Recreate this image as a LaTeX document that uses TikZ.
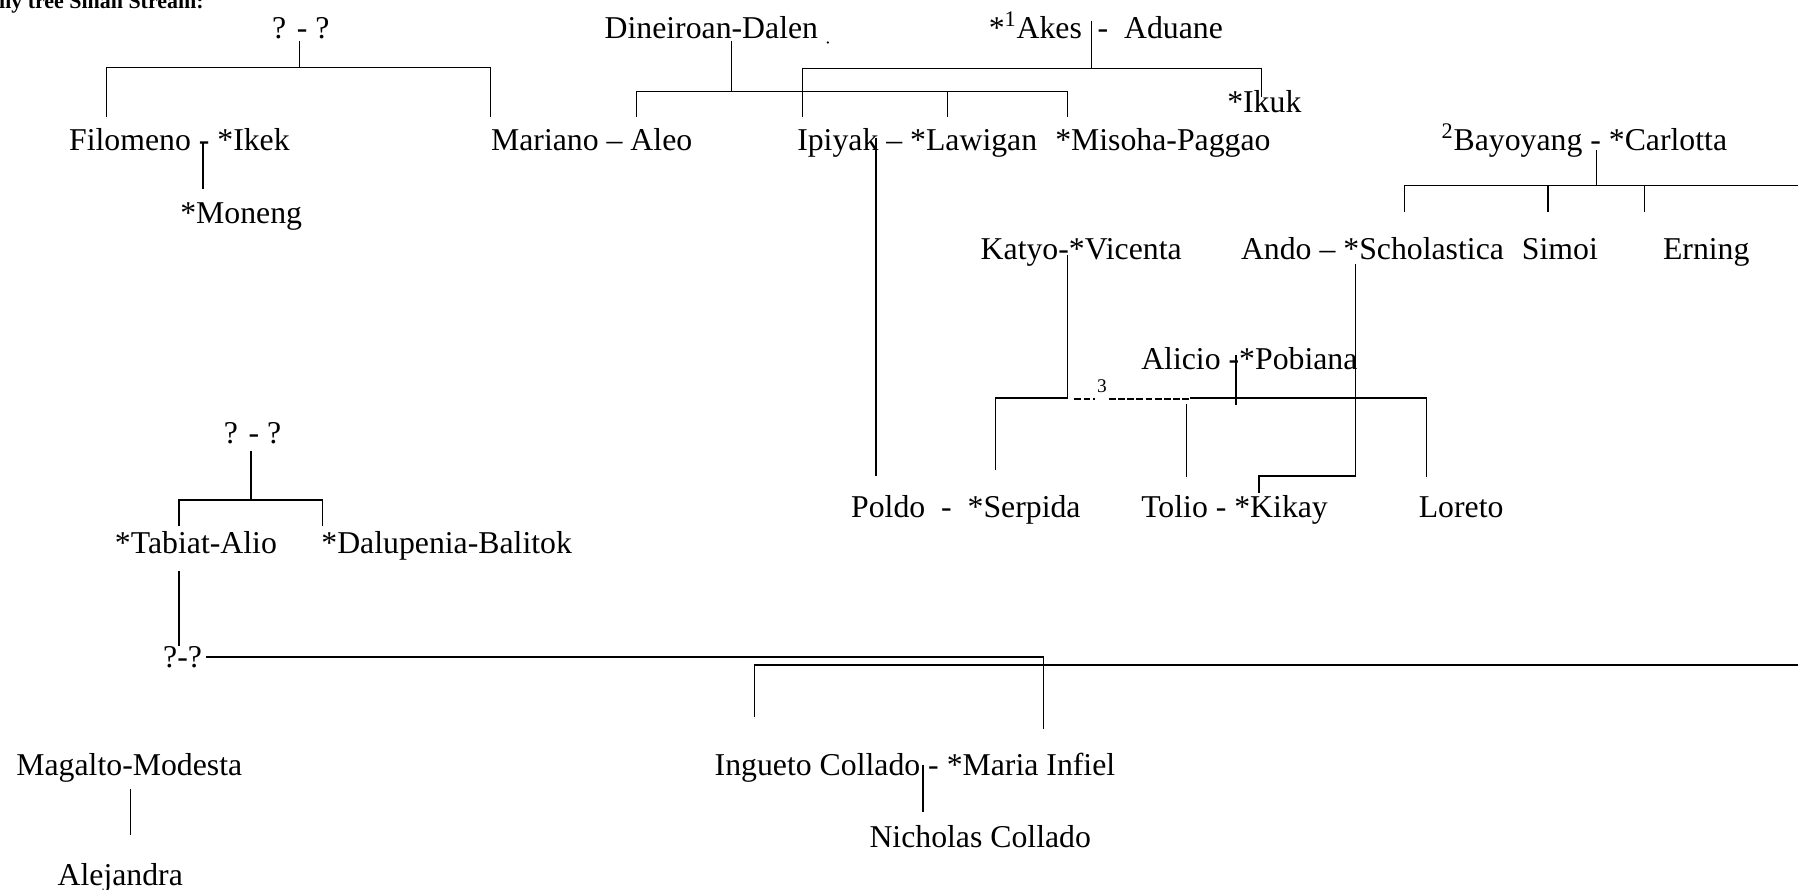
\documentclass[tikz,border=0pt]{standalone}
\usepackage{fontspec}
\setmainfont{Liberation Serif}
\newcommand\famtext{\fontsize{19.7pt}{23pt}\selectfont}

\tikzset{
  person/.style={anchor=base west,inner sep=0pt,font=\famtext},
  link/.style={draw,line width=0.8pt},
  guess/.style={draw,line width=1.1pt,dash pattern=on 4.2pt off 1.5pt}
}

\begin{document}
\begin{tikzpicture}[x=0.025cm,y=-0.025cm]

  \useasboundingbox (0,0) rectangle (1568,776);
  \clip (0,0) rectangle (1568,776);

  % people
  \begin{scope}[every node/.style={person}]
    \node[font=\fontsize{13.6pt}{16pt}\selectfont\bfseries] (title) at (-1,7) {ily tree Sinan Stream:};
    \node (qa)  at (237,34)    {? - ?};
    \node (fil) at (60,131)    {Filomeno - *Ikek};
    \node (mon) at (157,195)   {*Moneng};
    \node (mar) at (428,131)   {Mariano -- Aleo};
    \node (din) at (527,34)    {Dineiroan-Dalen};
    \node (ake) at (862,34)    {*\textsuperscript{1}Akes~~-~~Aduane};
    \node (iku) at (1070,98)   {*Ikuk};
    \node (ipi) at (695,131)   {Ipiyak -- *Lawigan};
    \node (mis) at (920,131)   {*Misoha-Paggao};
    \node (bay) at (1257,131)  {\textsuperscript{2}Bayoyang - *Carlotta};
    \node (kat) at (855,226)   {Katyo-*Vicenta};
    \node (and) at (1082,226)  {Ando -- *Scholastica};
    \node (sim) at (1327,226)  {Simoi};
    \node (ern) at (1450,226)  {Erning};
    \node (ali) at (995,322)   {Alicio -*Pobiana};
    \node (pol) at (742,451)   {Poldo~~-~~*Serpida};
    \node (tol) at (995,451)   {Tolio - *Kikay};
    \node (lor) at (1237,451)  {Loreto};
    \node (qb)  at (195,387)   {? - ?};
    \node (tab) at (100,483)   {*Tabiat-Alio};
    \node (dal) at (280,483)   {*Dalupenia-Balitok};
    \node (qc)  at (142,582)   {?-?};
    \node (ing) at (623,676)   {Ingueto Collado - *Maria Infiel};
    \node (nic) at (758,739)   {Nicholas Collado};
    \node (mag) at (14,676)    {Magalto-Modesta};
    \node (ale) at (50,772)    {Alejandra};
  \end{scope}
  \node[font=\fontsize{12pt}{14pt}\selectfont,inner sep=0pt] (three) at (961,337) {3};
  \fill (722,37) coordinate (dot) circle (1.1);

  % line ends
  \coordinate (a0) at (261,36);   \coordinate (a1) at (261,59);
  \coordinate (al) at (93,59);    \coordinate (ar) at (428,59);
  \coordinate (al1) at (93,102);  \coordinate (ar1) at (428,102);
  \coordinate (m0) at (177,124);  \coordinate (m1) at (177,165);
  \coordinate (b0) at (638,36);   \coordinate (b1) at (638,80);
  \coordinate (bl) at (555,80);   \coordinate (br) at (931,80);
  \coordinate (bm) at (826,80);
  \coordinate (bl1) at (555,102); \coordinate (bm1) at (826,102);
  \coordinate (br1) at (931,102);
  \coordinate (c0) at (952,18);   \coordinate (c1) at (952,60);
  \coordinate (cl) at (700,60);   \coordinate (cr) at (1100,60);
  \coordinate (cl1) at (700,102); \coordinate (cr1) at (1100,85);
  \coordinate (p0) at (764,120);  \coordinate (p1) at (764,415);
  \coordinate (d0) at (1392,131); \coordinate (d1) at (1392,162);
  \coordinate (dl) at (1225,162); \coordinate (dr) at (1568,162);
  \coordinate (dl1) at (1225,185);
  \coordinate (ds) at (1350,162); \coordinate (ds1) at (1350,185);
  \coordinate (de) at (1434,162); \coordinate (de1) at (1434,185);
  \coordinate (k0) at (931,222);  \coordinate (k1) at (931,347);
  \coordinate (k2) at (868,347);  \coordinate (k3) at (868,410);
  \coordinate (g0) at (937,348);  \coordinate (g1) at (955,348);
  \coordinate (g2) at (967,348);  \coordinate (g3) at (1038,348);
  \coordinate (t0) at (1038,347); \coordinate (t1) at (1244,347);
  \coordinate (t2) at (1244,416);
  \coordinate (tt0) at (1035,352); \coordinate (tt1) at (1035,416);
  \coordinate (s0) at (1078,310); \coordinate (s1) at (1078,353);
  \coordinate (n0) at (1182,230); \coordinate (n1) at (1182,415);
  \coordinate (n2) at (1098,415); \coordinate (n3) at (1098,430);
  \coordinate (e0) at (219,393);  \coordinate (e1) at (219,436);
  \coordinate (el) at (156,436);  \coordinate (er) at (281,436);
  \coordinate (el1) at (156,459); \coordinate (er1) at (281,459);
  \coordinate (f0) at (156,498);  \coordinate (f1) at (156,563);
  \coordinate (q0) at (180,573);  \coordinate (q1) at (910,573);
  \coordinate (q2) at (910,636);
  \coordinate (h0) at (658,625);  \coordinate (h1) at (658,580);
  \coordinate (h2) at (1568,580);
  \coordinate (i0) at (805,667);  \coordinate (i1) at (805,708);
  \coordinate (j0) at (114,688);  \coordinate (j1) at (114,728);

  % connectors
  \begin{scope}[every path/.style={link}]
    \path (a0) -- (a1);
    \path (al1) -- (al) -- (ar) -- (ar1);
    \path (m0) -- (m1);
    \path (b0) -- (b1);
    \path (bl1) -- (bl) -- (br) -- (br1);
    \path (bm) -- (bm1);
    \path (c0) -- (c1);
    \path (cl1) -- (cl) -- (cr) -- (cr1);
    \path (p0) -- (p1);
    \path (d0) -- (d1);
    \path (dl1) -- (dl) -- (dr);
    \path (ds) -- (ds1);
    \path (de) -- (de1);
    \path (k0) -- (k1) -- (k2) -- (k3);
    \path (t0) -- (t1) -- (t2);
    \path (tt0) -- (tt1);
    \path (s0) -- (s1);
    \path (n0) -- (n1) -- (n2) -- (n3);
    \path (e0) -- (e1);
    \path (el1) -- (el) -- (er) -- (er1);
    \path (f0) -- (f1);
    \path (q0) -- (q1) -- (q2);
    \path (h0) -- (h1) -- (h2);
    \path (i0) -- (i1);
    \path (j0) -- (j1);
  \end{scope}
  \path[guess] (g0) -- (g1);
  \path[guess] (g2) -- (g3);

\end{tikzpicture}
\end{document}
